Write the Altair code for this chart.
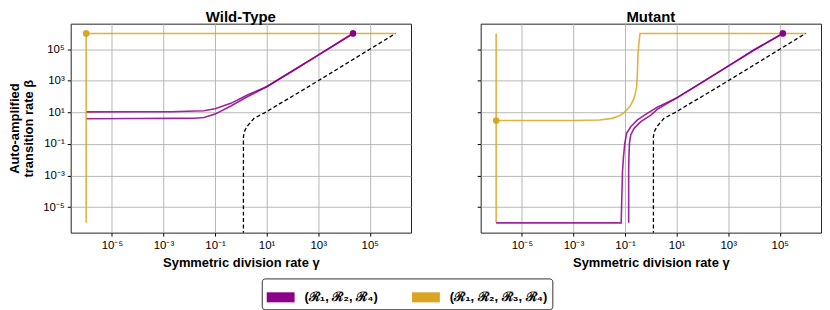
import altair as alt
import pandas as pd

SERIES = ["(ℛ₁, ℛ₂, ℛ₄)", "(ℛ₁, ℛ₂, ℛ₃, ℛ₄)"]
COLORS = ["#8B008B", "#DAA520"]

TICK_VALUES = [1e-5, 1e-3, 1e-1, 1e1, 1e3, 1e5]
TICK_LABELS = ["10⁻⁵", "10⁻³", "10⁻¹", "10¹", "10³", "10⁵"]

# ---- values, as log10(gamma), log10(beta) ----
# Wild-Type
WT_P1_LX = [-6, -4, -2.72, -1.43, -1, -0.39, 0.25, 1, 2, 3, 4.35]
WT_P1_LY = [1.03, 1.04, 1.04, 1.10, 1.23, 1.57, 2.10, 2.62, 3.62, 4.63, 6.0]
WT_P2_LX = [-6, -4, -2.72, -1.8, -1.43, -1, -0.39, 0.25, 1, 2, 3, 4.35]
WT_P2_LY = [0.60, 0.61, 0.62, 0.63, 0.68, 0.89, 1.40, 1.99, 2.62, 3.62, 4.63, 6.0]
WT_O1_LX = [-6, -6, 6]
WT_O1_LY = [-6, 6, 6]
WT_DOT_O = (-6, 6)
WT_DOT_P = (4.35, 6)

# Mutant
MU_P1_LX = [-6, -1.15, -1.10, -1.06, -1.01, -0.94, -0.78, -0.52, -0.14, 0.25, 1, 2, 3, 4, 5.12]
MU_P1_LY = [-6, -6, -2.75, -1.80, -0.96, -0.33, 0.09, 0.52, 0.94, 1.32, 1.92, 2.92, 3.93, 4.95, 6.0]
MU_P2_LX = [-0.86, -0.86, -0.85, -0.83, -0.78, -0.65, -0.39, 0.0, 0.25, 0.64, 1, 2, 3, 4, 5.12]
MU_P2_LY = [-6, -2.75, -1.80, -0.96, -0.43, -0.01, 0.41, 0.83, 1.19, 1.57, 1.90, 2.92, 3.93, 4.95, 6.0]
MU_O1_LX = [-6, -6]
MU_O1_LY = [-6, 6]
MU_O2_LX = [-6, -3, -2, -1.5, -1.2, -1, -0.8, -0.65, -0.59, -0.55, -0.52, -0.50, -0.46, -0.42, 6.03]
MU_O2_LY = [0.48, 0.48, 0.52, 0.62, 0.80, 1.04, 1.40, 1.88, 2.30, 2.60, 3.57, 4.60, 5.46, 6.0, 6.0]
MU_DOT_O = (-6, 0.48)
MU_DOT_P = (5.12, 6)

# Black dashed reference curve (same in both panels)
BL_LX = [0.10, 0.10, 0.13, 0.23, 0.51, 1.0, 1.41, 2, 3, 4, 5, 6.0]
BL_LY = [-8.0, -0.54, -0.25, 0.09, 0.62, 1.04, 1.46, 2.02, 3.0, 4.0, 5.0, 6.0]

XDOM = [10 ** -6.6, 10 ** 6.6]
YDOM = [10 ** -6.62, 10 ** 6.62]


def line_rows(series, seg, lx, ly):
    return [
        {"series": series, "seg": seg, "idx": i, "x": 10 ** a, "y": 10 ** b}
        for i, (a, b) in enumerate(zip(lx, ly))
    ]


def dot_rows(items):
    return [{"series": s, "x": 10 ** p[0], "y": 10 ** p[1]} for s, p in items]


wt_lines = pd.DataFrame(
    line_rows(SERIES[0], "p1", WT_P1_LX, WT_P1_LY)
    + line_rows(SERIES[0], "p2", WT_P2_LX, WT_P2_LY)
    + line_rows(SERIES[1], "o1", WT_O1_LX, WT_O1_LY)
)
mu_lines = pd.DataFrame(
    line_rows(SERIES[1], "o1", MU_O1_LX, MU_O1_LY)
    + line_rows(SERIES[1], "o2", MU_O2_LX, MU_O2_LY)
    + line_rows(SERIES[0], "p1", MU_P1_LX, MU_P1_LY)
    + line_rows(SERIES[0], "p2", MU_P2_LX, MU_P2_LY)
)
black = pd.DataFrame(line_rows("ref", "b", BL_LX, BL_LY))
wt_dots = pd.DataFrame(dot_rows([(SERIES[1], WT_DOT_O), (SERIES[0], WT_DOT_P)]))
mu_dots = pd.DataFrame(dot_rows([(SERIES[1], MU_DOT_O), (SERIES[0], MU_DOT_P)]))

FONT = "Liberation Sans"
label_expr = "[" + ",".join("'%s'" % t for t in TICK_LABELS) + "][round((log(datum.value)/LN10 + 5)/2)]"

color_scale = alt.Scale(domain=SERIES, range=COLORS)
legend = alt.Legend(
    title=None,
    orient="none",
    legendX=192,
    legendY=256,
    direction="horizontal",
    symbolType="M-1,-0.36L1,-0.36L1,0.36L-1,0.36Z",
    symbolSize=784,
    symbolStrokeWidth=0,
    symbolOpacity=1,
    labelFont=FONT,
    labelFontSize=13,
    labelFontWeight="bold",
    labelColor="black",
    labelOffset=10,
    columnPadding=34,
    strokeColor="#333333",
    cornerRadius=3,
    padding=5,
)


def panel(title, lines_df, dots_df, show_y):
    xenc = alt.X(
        "x:Q",
        scale=alt.Scale(type="log", domain=XDOM, nice=False),
        axis=alt.Axis(
            values=TICK_VALUES,
            labelExpr=label_expr,
            title="Symmetric division rate γ",
            titleFontWeight="bold",
            titleFontSize=13,
            titlePadding=6,
            labelFontSize=11.5,
            labelPadding=3,
            tickSize=3.5,
            domain=False,
            gridColor="#b0b0b0",
            gridWidth=0.9,
        ),
    )
    yaxis = dict(
        values=TICK_VALUES,
        tickSize=3.5,
        domain=False,
        gridColor="#b0b0b0",
        gridWidth=0.9,
    )
    if show_y:
        yaxis.update(
            labelExpr=label_expr,
            labelFontSize=11.5,
            labelPadding=3,
            title=["Auto-amplified", "transition rate β"],
            titleFontWeight="bold",
            titleFontSize=13,
            titleLineHeight=14,
            titlePadding=7,
        )
    else:
        yaxis.update(labels=False, title=None)
    yenc = alt.Y("y:Q", scale=alt.Scale(type="log", domain=YDOM, nice=False), axis=alt.Axis(**yaxis))

    legend_dots = alt.Chart(dots_df).mark_circle(size=40, opacity=1).encode(
        x=xenc,
        y=yenc,
        color=alt.Color("series:N", scale=color_scale, legend=legend),
    )
    colored = alt.Chart(lines_df).mark_line(strokeWidth=1.6, strokeOpacity=0.85, clip=True).encode(
        x="x:Q",
        y="y:Q",
        color=alt.Color("series:N", scale=color_scale, legend=None),
        detail="seg:N",
        order=alt.Order("idx:Q"),
    )
    dashed = alt.Chart(black).mark_line(
        color="black", strokeWidth=1.3, strokeDash=[4, 2.5], clip=True
    ).encode(x="x:Q", y="y:Q", order=alt.Order("idx:Q"))
    dots = alt.Chart(dots_df).mark_circle(size=40, opacity=1).encode(
        x="x:Q",
        y="y:Q",
        color=alt.Color("series:N", scale=color_scale, legend=None),
    )
    return alt.layer(legend_dots, colored, dashed, dots).properties(
        width=342,
        height=210,
        title=alt.TitleParams(title, fontSize=15, fontWeight="bold", font=FONT, offset=-1),
    )


left = panel("Wild-Type", wt_lines, wt_dots, True)
right = panel("Mutant", mu_lines, mu_dots, False)

chart = (
    alt.hconcat(left, right, spacing=64)
    .properties(padding={"left": 0, "top": 0, "right": 0, "bottom": 0})
    .configure(font=FONT)
    .configure_view(stroke="#222222", strokeWidth=1)
    .configure_axis(labelFont=FONT, titleFont=FONT, labelColor="black", titleColor="black", tickColor="black")
)

chart.save("out.html", embed_options={"renderer": "svg", "actions": False})
